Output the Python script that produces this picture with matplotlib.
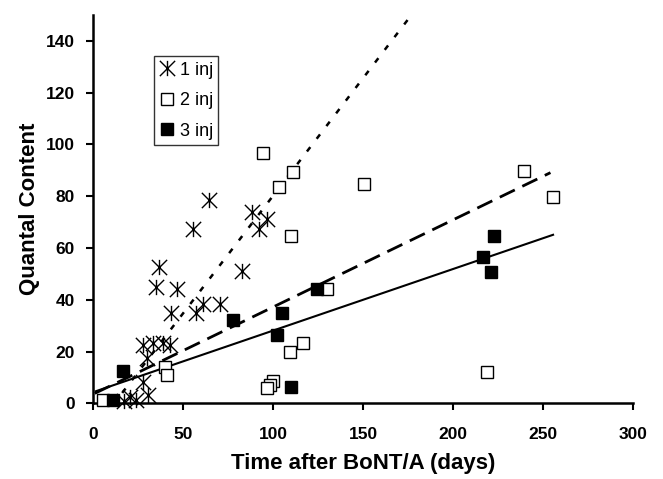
import numpy as np
import matplotlib
matplotlib.use("Agg")
import matplotlib.pyplot as plt
from matplotlib.path import Path

plt.rcParams['font.family'] = ['Liberation Sans', 'DejaVu Sans']

# ---- data ----
one_inj_x = [64.4, 55.7, 88.1, 96.5, 92.2, 36.7, 34.8, 46.5, 82.6, 61.3, 70.6, 43.1, 57.0,
             27.6, 42.8, 29.8, 30.7, 33.5, 39.0, 28.0, 20.6, 24.0, 17.0]
one_inj_y = [78.4, 67.5, 73.9, 71.3, 67.5, 52.6, 44.9, 44.2, 51.3, 38.4, 38.4, 34.8, 34.8,
             22.6, 22.6, 17.4, 3.2, 23.2, 23.2, 8.4, 2.6, 1.3, 1.0]

two_inj_x = [5.7, 40.0, 41.0, 94.6, 111.3, 103.2, 109.8, 150.7, 239.1, 255.4, 130.2,
             116.5, 109.1, 100.2, 98.3, 96.8, 218.7]
two_inj_y = [1.3, 14.2, 11.0, 96.8, 89.3, 83.6, 64.5, 84.9, 89.7, 79.7, 44.1,
             23.2, 20.0, 8.8, 7.1, 5.8, 12.2]

three_inj_x = [11.3, 16.9, 77.6, 102.4, 104.8, 110.0, 124.3, 216.3, 220.9, 222.8]
three_inj_y = [1.3, 12.5, 32.2, 26.2, 34.8, 6.2, 44.1, 56.5, 50.8, 64.5]

# linear trend lines: intercept, slope, x-range
trend_intercepts = [-10.7, 3.5, 4.3]
trend_slopes = [0.909, 0.337, 0.238]
trend_xstart = [0.0, 1.0, 1.0]
trend_xend = [180.0, 254.0, 256.0]

legend_labels = ['1 inj', '2 inj', '3 inj']
x_ticks = [0, 50, 100, 150, 200, 250, 300]
y_ticks = [0, 20, 40, 60, 80, 100, 120, 140]

# ---- figure ----
fig = plt.figure(figsize=(6.63, 4.79), dpi=100)
ax = fig.add_axes([0.1403, 0.158, 0.8149, 0.8107])

ast = Path([(0, -1), (0, 1), (-1, -1), (1, 1), (-1, 1), (1, -1)],
           [Path.MOVETO, Path.LINETO, Path.MOVETO, Path.LINETO, Path.MOVETO, Path.LINETO])

# trend lines
styles = [dict(ls=(0, (2.2, 4.2)), lw=1.8), dict(ls=(0, (6, 3)), lw=2.0), dict(ls='-', lw=1.5)]
for a, b, x0, x1, st in zip(trend_intercepts, trend_slopes, trend_xstart, trend_xend, styles):
    xs = np.array([x0, x1])
    ax.plot(xs, a + b * xs, color='black', zorder=2, solid_capstyle='butt',
            dash_capstyle='butt', **st)

h1, = ax.plot(one_inj_x, one_inj_y, ls='none', marker=ast, ms=11, mew=1.0,
              mec='black', mfc='none', clip_on=False, zorder=3, label=legend_labels[0])
h2, = ax.plot(two_inj_x, two_inj_y, ls='none', marker='s', ms=8, mew=1.0,
              mec='black', mfc='white', clip_on=False, zorder=3, label=legend_labels[1])
h3, = ax.plot(three_inj_x, three_inj_y, ls='none', marker='s', ms=8.5, mew=1.0,
              mec='black', mfc='black', clip_on=False, zorder=4, label=legend_labels[2])

ax.set_xlim(0, 300)
ax.set_ylim(0, 150)
ax.set_xticks(x_ticks)
ax.set_yticks(y_ticks)
ax.set_xticklabels([str(v) for v in x_ticks], fontsize=12.5, fontweight='bold')
ax.set_yticklabels([str(v) for v in y_ticks], fontsize=12.5, fontweight='bold')
ax.tick_params(direction='out', length=5, width=1.5)
ax.tick_params(axis='x', pad=12)
ax.tick_params(axis='y', pad=8)
for s in ['top', 'right']:
    ax.spines[s].set_visible(False)
for s in ['left', 'bottom']:
    ax.spines[s].set_linewidth(1.8)

ax.set_xlabel('Time after BoNT/A (days)', fontsize=16, fontweight='bold', labelpad=8)
ax.set_ylabel('Quantal Content', fontsize=16, fontweight='bold', labelpad=4)

leg = ax.legend(handles=[h1, h2, h3], loc='upper left', bbox_to_anchor=(0.1135, 0.894),
                borderaxespad=0, fontsize=13, frameon=True, fancybox=False,
                handlelength=0.8, handletextpad=0.3, borderpad=0.3, labelspacing=0.75,
                edgecolor='black')
leg.get_frame().set_linewidth(1.0)

fig.savefig('out.png', dpi=100)
